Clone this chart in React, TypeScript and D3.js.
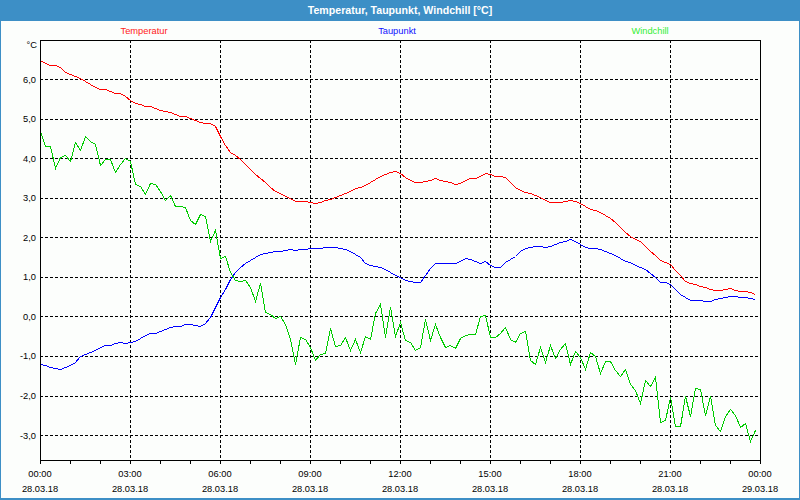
import React from "react";
import * as d3 from "d3";

// 10-minute samples, 28.03.18 00:00 .. 23:50
const temperatur: number[] = [
  6.48, 6.41, 6.36, 6.35, 6.30, 6.19, 6.14, 6.08, 6.03, 5.96, 5.87, 5.81, 5.76, 5.74, 5.69, 5.66, 5.64, 5.57, 5.47, 5.40, 5.36, 5.33, 5.32, 5.27, 5.22, 5.19, 5.16, 5.11, 5.08, 5.08, 5.03, 4.96, 4.91, 4.89, 4.88, 4.81, 4.55,
  4.34, 4.16, 4.08, 3.97, 3.85, 3.72, 3.61, 3.50, 3.39, 3.28, 3.17, 3.11, 3.05, 2.99, 2.92, 2.91, 2.91, 2.89, 2.88, 2.90, 2.95, 2.98, 3.02, 3.06, 3.13, 3.18, 3.24, 3.28, 3.33, 3.40, 3.47, 3.54, 3.59, 3.65, 3.68, 3.62,
  3.53, 3.46, 3.41, 3.40, 3.42, 3.45, 3.49, 3.44, 3.42, 3.39, 3.35, 3.38, 3.44, 3.49, 3.50, 3.55, 3.62, 3.59, 3.55, 3.54, 3.52, 3.40, 3.28, 3.20, 3.14, 3.11, 3.07, 3.03, 2.95, 2.89, 2.89, 2.89, 2.91, 2.94, 2.92, 2.86,
  2.78, 2.72, 2.68, 2.63, 2.57, 2.48, 2.38, 2.25, 2.14, 2.03, 1.97, 1.91, 1.78, 1.66, 1.55, 1.43, 1.38, 1.32, 1.17, 1.04, 0.90, 0.84, 0.81, 0.78, 0.75, 0.70, 0.68, 0.68, 0.69, 0.71, 0.68, 0.65, 0.64, 0.61, 0.56,
];

const taupunkt: number[] = [
  -1.20, -1.24, -1.28, -1.31, -1.32, -1.27, -1.22, -1.16, -1.01, -0.96, -0.90, -0.84, -0.78, -0.73, -0.73, -0.66, -0.64, -0.67, -0.64, -0.61, -0.54, -0.47, -0.43, -0.41, -0.36, -0.31, -0.27, -0.25, -0.24, -0.19, -0.19, -0.21, -0.23, -0.17, -0.02, 0.24, 0.50,
  0.70, 0.94, 1.13, 1.24, 1.34, 1.43, 1.51, 1.57, 1.61, 1.64, 1.65, 1.65, 1.68, 1.71, 1.68, 1.70, 1.71, 1.72, 1.72, 1.73, 1.75, 1.76, 1.75, 1.73, 1.70, 1.65, 1.59, 1.51, 1.36, 1.29, 1.27, 1.25, 1.20, 1.13, 1.06, 0.99,
  0.92, 0.90, 0.88, 0.88, 1.05, 1.22, 1.34, 1.34, 1.34, 1.36, 1.34, 1.41, 1.47, 1.46, 1.40, 1.34, 1.39, 1.29, 1.24, 1.26, 1.37, 1.44, 1.54, 1.66, 1.72, 1.76, 1.78, 1.78, 1.75, 1.78, 1.84, 1.88, 1.92, 1.95, 1.90, 1.83,
  1.76, 1.72, 1.72, 1.70, 1.65, 1.61, 1.55, 1.48, 1.41, 1.37, 1.31, 1.26, 1.19, 1.09, 0.99, 0.86, 0.88, 0.81, 0.70, 0.58, 0.48, 0.41, 0.41, 0.41, 0.40, 0.38, 0.43, 0.47, 0.50, 0.51, 0.51, 0.50, 0.48, 0.46, 0.44,
];

const windchill: number[] = [
  4.69, 4.30, 4.32, 3.75, 4.03, 4.09, 3.93, 4.41, 4.20, 4.57, 4.44, 4.37, 3.82, 3.99, 3.99, 3.65, 3.85, 4.00, 3.93, 3.34, 3.29, 3.09, 3.38, 3.36, 3.17, 2.94, 3.07, 2.78, 2.78, 2.77, 2.43, 2.33, 2.60, 2.55, 1.90, 2.19, 1.47,
  1.53, 1.13, 0.92, 0.89, 0.92, 0.75, 0.40, 0.85, 0.12, 0.06, -0.03, 0.01, -0.20, -0.58, -1.21, -0.51, -0.57, -0.77, -1.11, -0.96, -0.92, -0.30, -0.75, -0.73, -0.53, -0.85, -0.58, -0.89, -0.50, -0.58, 0.08, 0.31, -0.53, 0.23, -0.50, -0.15,
  -0.60, -0.65, -0.84, -0.77, -0.07, -0.60, -0.19, -0.53, -0.77, -0.71, -0.80, -0.55, -0.46, -0.45, -0.45, 0.02, 0.03, -0.53, -0.53, -0.41, -0.26, -0.56, -0.64, -0.41, -0.36, -1.11, -1.21, -0.78, -1.16, -0.73, -1.05, -0.82, -0.66, -1.19, -0.87, -1.02,
  -1.34, -0.89, -1.00, -1.44, -1.12, -1.12, -1.36, -1.51, -1.32, -1.70, -1.86, -2.18, -1.61, -1.76, -1.54, -2.67, -2.61, -2.03, -2.77, -2.77, -2.02, -2.51, -1.80, -1.83, -2.50, -2.00, -2.75, -2.89, -2.52, -2.35, -2.50, -2.79, -2.69, -3.16, -2.88,
];

const yTicks: number[] = [-3, -2, -1, 0, 1, 2, 3, 4, 5, 6];
const seriesNames: string[] = ["Temperatur", "Taupunkt", "Windchill"];
const title = "Temperatur, Taupunkt, Windchill [°C]";
const yUnit = "°C";

const START = new Date(2018, 2, 28, 0, 0);
const END = new Date(2018, 2, 29, 0, 0);
const STEP_MIN = 10;

const W = 800;
const H = 500;
const L = 40, R = 760, T = 40, B = 460;
const FONT = "'Liberation Sans', Arial, sans-serif";

export default function App() {
  const x = d3.scaleTime().domain([START, END]).range([L, R]);
  const y = d3.scaleLinear().domain([-3.63, 6.99]).range([B, T]);
  const timeAt = (i: number) => new Date(START.getTime() + i * STEP_MIN * 60000);

  const line = d3
    .line<number>()
    .x((_, i) => Math.round(x(timeAt(i))) + 0.5)
    .y((v) => Math.round(y(v)) + 0.5);

  const series = [
    { name: seriesNames[0], values: temperatur, color: "#ff0000", legend: "#ff2020", lx: 144 },
    { name: seriesNames[1], values: taupunkt, color: "#0000ff", legend: "#1010ff", lx: 397 },
    { name: seriesNames[2], values: windchill, color: "#00cc00", legend: "#33ee33", lx: 650 },
  ];

  const hourTicks = d3.timeHour.every(1)!.range(START, new Date(END.getTime() + 1));
  const majorTicks = d3.timeHour.every(3)!.range(START, new Date(END.getTime() + 1));
  const fmtTime = d3.timeFormat("%H:%M");
  const fmtDate = d3.timeFormat("%d.%m.%y");
  const fmtY = (v: number) => v.toFixed(1).replace(".", ",");
  const px = (v: number) => Math.round(v) + 0.5;

  return (
    <svg
      width={W}
      height={H}
      style={{ position: "fixed", left: 0, top: 0, display: "block" }}
      fontFamily={FONT}
    >
      <rect x={0} y={0} width={W} height={H} fill="#fcfefc" />
      <rect x={0} y={0} width={W} height={21} fill="#3d8fc6" />
      <rect x={0.5} y={0.5} width={W - 1} height={H - 1} fill="none" stroke="#3d8fc6" />
      <line x1={0} x2={W} y1={H - 1.5} y2={H - 1.5} stroke="#3d8fc6" />
      <text x={400} y={14} textAnchor="middle" fill="#ffffff" fontWeight="bold" fontSize={10.6}>
        {title}
      </text>

      {series.map((s) => (
        <text key={s.name} x={s.lx} y={34} textAnchor="middle" fill={s.legend} fontSize={9.3}>
          {s.name}
        </text>
      ))}

      <text x={37} y={48} textAnchor="end" fill="#000" fontSize={9.3}>
        {yUnit}
      </text>

      {/* horizontal grid */}
      <g shapeRendering="crispEdges">
        {yTicks.map((t) => (
          <line key={t} x1={L} x2={R} y1={px(y(t))} y2={px(y(t))} stroke="#000" strokeDasharray="3,2" />
        ))}
        {majorTicks
          .filter((d) => +d !== +START && +d !== +END)
          .map((d) => (
            <line key={+d} x1={px(x(d))} x2={px(x(d))} y1={T} y2={B} stroke="#000" strokeDasharray="3,2" />
          ))}
      </g>

      {/* series */}
      <g>
        {series.map((s) => (
          <path key={s.name} d={line(s.values) || ""} fill="none" stroke={s.color} strokeWidth={1} shapeRendering="crispEdges" />
        ))}
      </g>

      {/* frame */}
      <rect x={L + 0.5} y={T + 0.5} width={R - L} height={B - T} fill="none" stroke="#000" shapeRendering="crispEdges" />

      {/* x ticks */}
      <g shapeRendering="crispEdges">
        {hourTicks.map((d) => (
          <line key={+d} x1={px(x(d))} x2={px(x(d))} y1={B} y2={B + 4} stroke="#000" />
        ))}
      </g>
      {majorTicks.map((d) => (
        <g key={+d}>
          <text x={x(d)} y={477} textAnchor="middle" fontSize={9.3} fill="#000">
            {fmtTime(d)}
          </text>
          <text x={x(d)} y={492} textAnchor="middle" fontSize={9.3} fill="#000">
            {fmtDate(d)}
          </text>
        </g>
      ))}

      {/* y tick labels */}
      {yTicks.map((t) => (
        <text key={t} x={36} y={y(t) + 3.5} textAnchor="end" fontSize={9.3} fill="#000">
          {fmtY(t)}
        </text>
      ))}
    </svg>
  );
}
